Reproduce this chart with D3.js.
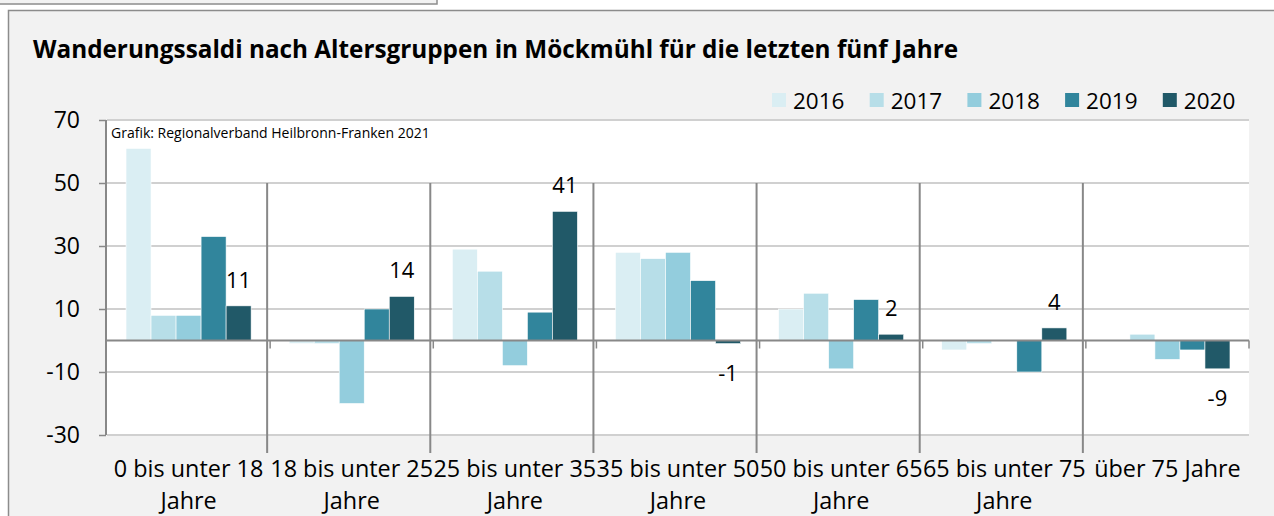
<!DOCTYPE html>
<html>
<head>
<meta charset="utf-8">
<script src="https://cdn.jsdelivr.net/npm/d3@7"></script>
<style>
  html, body { margin: 0; padding: 0; background: #fff; }
  svg { display: block; font-family: "Open Sans", Lato, sans-serif; }
</style>
</head>
<body>
<div id="chart"></div>
<script>
// data
const categories = [
  "0 bis unter 18 Jahre", "18 bis unter 25 Jahre", "25 bis unter 35 Jahre",
  "35 bis unter 50 Jahre", "50 bis unter 65 Jahre", "65 bis unter 75 Jahre",
  "über 75 Jahre"
];
const catLines = [
  ["0 bis unter 18", "Jahre"], ["18 bis unter 25", "Jahre"], ["25 bis unter 35", "Jahre"],
  ["35 bis unter 50", "Jahre"], ["50 bis unter 65", "Jahre"], ["65 bis unter 75", "Jahre"],
  ["über 75 Jahre"]
];
const years = ["2016", "2017", "2018", "2019", "2020"];
const v2016 = [61, -1, 29, 28, 10, -3, 0];
const v2017 = [8, -1, 22, 26, 15, -1, 2];
const v2018 = [8, -20, -8, 28, -9, 0, -6];
const v2019 = [33, 10, 9, 19, 13, -10, -3];
const v2020 = [11, 14, 41, -1, 2, 4, -9];
const yTicks = [-30, -10, 10, 30, 50, 70];
const colors = ["#daeef3", "#b7dee8", "#93cddd", "#31859c", "#215968"];

const seriesValues = [v2016, v2017, v2018, v2019, v2020];

// 1. Setup
const width = 1274, height = 516;
const plot = { left: 107, right: 1249, top: 120, bottom: 435 };

const svg = d3.select("#chart").append("svg")
    .attr("width", width)
    .attr("height", height);

// cut-off box at top and the chart frame
svg.append("rect")
    .attr("x", -2).attr("y", -10).attr("width", 439).attr("height", 14)
    .attr("fill", "#f2f2f2").attr("stroke", "#8c8c8c").attr("stroke-width", 1.5);
svg.append("rect")
    .attr("x", 8.5).attr("y", 10.5).attr("width", 1300).attr("height", 600)
    .attr("fill", "#f2f2f2").attr("stroke", "#8c8c8c").attr("stroke-width", 1.5);

// plot background
svg.append("rect")
    .attr("x", plot.left).attr("y", plot.top)
    .attr("width", plot.right - plot.left).attr("height", plot.bottom - plot.top)
    .attr("fill", "#fff");

// 2. Scales
const y = d3.scaleLinear().domain([-30, 70]).range([plot.bottom, plot.top]);
const x0 = d3.scaleBand().domain(categories).range([plot.left, plot.right]).padding(0);
const x1 = d3.scaleBand().domain(years).range([0, x0.bandwidth()])
    .paddingInner(0).paddingOuter(0.76);

// 3. Gridlines
svg.append("g")
    .selectAll("line")
    .data(yTicks)
    .join("line")
    .attr("x1", plot.left).attr("x2", plot.right)
    .attr("y1", d => y(d)).attr("y2", d => y(d))
    .attr("stroke", "#d0d0d0").attr("stroke-width", 2);

// 4. Bars
const rows = categories.map((c, i) => ({ cat: c, values: years.map((yr, j) => ({ year: yr, j, value: seriesValues[j][i] })) }));

const groups = svg.append("g")
    .selectAll("g")
    .data(rows)
    .join("g")
    .attr("transform", d => `translate(${x0(d.cat)},0)`);

groups.selectAll("rect")
    .data(d => d.values.filter(v => v.value !== 0))
    .join("rect")
    .attr("x", d => x1(d.year))
    .attr("width", x1.bandwidth())
    .attr("y", d => y(Math.max(0, d.value)))
    .attr("height", d => Math.abs(y(d.value) - y(0)))
    .attr("fill", d => colors[d.j])
    .attr("stroke", "#fff").attr("stroke-width", 0.6);

// 2020 labels
groups.append("text")
    .datum(d => d.values[4])
    .attr("x", d => x1(d.year) + x1.bandwidth() / 2)
    .attr("y", d => d.value >= 0 ? y(d.value) - 18 : y(d.value) + 37)
    .attr("text-anchor", "middle")
    .attr("font-size", "22px")
    .attr("fill", "#000")
    .text(d => d.value);

// 5. Axes
const yAxisG = svg.append("g")
    .attr("transform", `translate(${plot.left - 1},0)`)
    .call(d3.axisLeft(y).tickValues(yTicks).tickSize(7).tickPadding(19)
        .tickFormat(d => String(d)));
yAxisG.select(".domain").attr("stroke", "#888").attr("stroke-width", 2)
    .attr("d", `M0,${plot.top}V${plot.bottom}`);
yAxisG.selectAll(".tick line").attr("stroke", "#888").attr("stroke-width", 1.5);
yAxisG.selectAll(".tick text")
    .attr("font-size", "23px").attr("fill", "#000")
    .attr("font-family", "'Open Sans', Lato, sans-serif");

// zero line
svg.append("line")
    .attr("x1", plot.left).attr("x2", plot.right)
    .attr("y1", y(0)).attr("y2", y(0))
    .attr("stroke", "#888").attr("stroke-width", 2);

// category tick marks on zero line
const bounds = categories.map(c => x0(c)).concat([plot.right]);
svg.append("g")
    .selectAll("line")
    .data(bounds.slice(1))
    .join("line")
    .attr("x1", d => d).attr("x2", d => d)
    .attr("y1", y(0)).attr("y2", y(0) + 8)
    .attr("stroke", "#888").attr("stroke-width", 1.5);

// long dividers between groups
svg.append("g")
    .selectAll("line")
    .data(bounds.slice(1, -1))
    .join("line")
    .attr("x1", d => d - 3).attr("x2", d => d - 3)
    .attr("y1", y(50)).attr("y2", 453)
    .attr("stroke", "#888").attr("stroke-width", 2);

// category labels
const catLabel = svg.append("g")
    .selectAll("text")
    .data(categories)
    .join("text")
    .attr("x", d => x0(d) + x0.bandwidth() / 2)
    .attr("text-anchor", "middle")
    .attr("font-size", "23.4px")
    .attr("fill", "#000");
catLabel.selectAll("tspan")
    .data((d, i) => catLines[i])
    .join("tspan")
    .attr("x", function () { return d3.select(this.parentNode).attr("x"); })
    .attr("y", (d, i) => 477 + i * 32)
    .text(d => d);

// 6. Title, source, legend
svg.append("text")
    .attr("x", 33).attr("y", 58)
    .attr("font-size", "24.3px")
    .attr("font-weight", "bold")
    .attr("fill", "#000")
    .text("Wanderungssaldi nach Altersgruppen in Möckmühl für die letzten fünf Jahre");

svg.append("text")
    .attr("x", 111).attr("y", 138)
    .attr("font-size", "14px")
    .attr("fill", "#000")
    .text("Grafik: Regionalverband Heilbronn-Franken 2021");

const legend = svg.append("g")
    .selectAll("g")
    .data(years)
    .join("g")
    .attr("transform", (d, i) => `translate(${772 + i * 97.7},93)`);
legend.append("rect")
    .attr("width", 14).attr("height", 14)
    .attr("fill", (d, i) => colors[i]);
legend.append("text")
    .attr("x", 21).attr("y", 15.5)
    .attr("font-size", "22.5px")
    .attr("fill", "#000")
    .text(d => d);
</script>
</body>
</html>
